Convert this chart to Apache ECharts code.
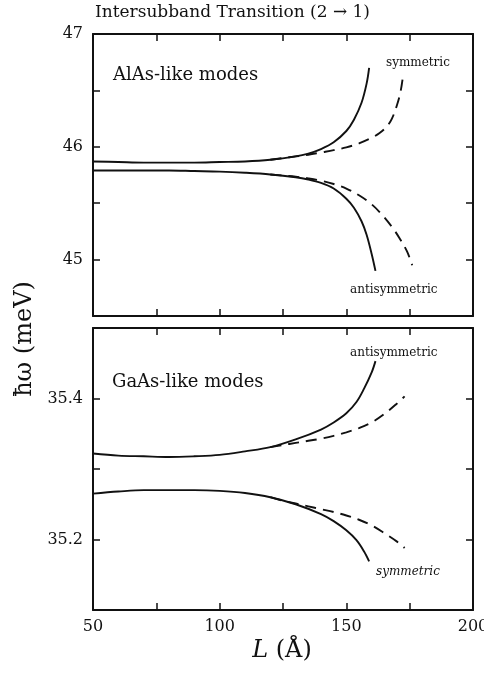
<!DOCTYPE html>
<html>
<head>
<meta charset="utf-8">
<script src="https://cdn.jsdelivr.net/npm/echarts@6/dist/echarts.min.js"></script>
<style>
  html, body { margin: 0; padding: 0; background: #fff; }
  #chart { width: 484px; height: 682px; }
</style>
</head>
<body>
<div id="chart"></div>
<script>
// AlAs-like modes (upper panel)
const alasSolidUpL = [50, 60, 70, 80, 90, 100, 110, 120, 130, 135, 140, 145, 150, 153, 156, 158, 159]
const alasSolidUpE = [45.87, 45.865, 45.86, 45.86, 45.86, 45.865, 45.87, 45.885, 45.915, 45.94, 45.98, 46.04, 46.14, 46.24, 46.39, 46.56, 46.70]
const alasSolidLoL = [50, 60, 70, 80, 90, 100, 110, 120, 130, 135, 140, 145, 150, 153, 156, 158, 160, 161.5]
const alasSolidLoE = [45.79, 45.79, 45.79, 45.79, 45.785, 45.78, 45.77, 45.755, 45.73, 45.71, 45.68, 45.63, 45.54, 45.46, 45.34, 45.22, 45.05, 44.9]
const alasDashUpL = [120, 125, 130, 135, 140, 145, 150, 155, 160, 163, 166, 168, 170, 171.5, 172.5]
const alasDashUpE = [45.885, 45.9, 45.915, 45.93, 45.95, 45.97, 45.995, 46.03, 46.08, 46.12, 46.18, 46.25, 46.37, 46.5, 46.65]
const alasDashLoL = [120, 125, 130, 135, 140, 145, 150, 155, 160, 164, 168, 171, 174, 176]
const alasDashLoE = [45.755, 45.745, 45.735, 45.72, 45.70, 45.67, 45.63, 45.57, 45.49, 45.40, 45.29, 45.19, 45.07, 44.95]

// GaAs-like modes (lower panel)
const gaasSolidUpL = [50, 60, 70, 80, 90, 100, 110, 120, 130, 140, 145, 150, 154, 157, 160, 161.5]
const gaasSolidUpE = [35.322, 35.319, 35.318, 35.317, 35.318, 35.32, 35.325, 35.331, 35.342, 35.356, 35.366, 35.379, 35.395, 35.414, 35.437, 35.453]
const gaasSolidLoL = [50, 60, 70, 80, 90, 100, 110, 120, 130, 140, 145, 150, 154, 157, 159]
const gaasSolidLoE = [35.265, 35.268, 35.27, 35.27, 35.27, 35.269, 35.266, 35.26, 35.25, 35.236, 35.226, 35.213, 35.199, 35.183, 35.169]
const gaasDashUpL = [120, 125, 130, 135, 140, 145, 150, 155, 160, 165, 170, 173]
const gaasDashUpE = [35.331, 35.334, 35.337, 35.340, 35.343, 35.347, 35.352, 35.358, 35.366, 35.378, 35.393, 35.403]
const gaasDashLoL = [120, 125, 130, 135, 140, 145, 150, 155, 160, 165, 170, 173]
const gaasDashLoE = [35.26, 35.255, 35.251, 35.247, 35.243, 35.239, 35.234, 35.228, 35.22, 35.209, 35.197, 35.188]

const xTicks = [50, 100, 150, 200]
const alasTicks = [45, 46, 47]
const gaasTicks = [35.2, 35.4]

const FONT = 'DejaVu Serif'
const INK = '#111'

const zip = (xs, ys) => xs.map((x, i) => [x, ys[i]])
const near = (v, list) => list.some((t) => Math.abs(v - t) < 1e-6)

function xAxis(gridIndex, position, labels) {
  return {
    type: 'value', gridIndex, position, min: 50, max: 200, interval: 25,
    axisLine: { show: true, onZero: false, lineStyle: { color: INK, width: 2 } },
    axisTick: { show: true, inside: true, length: 7, lineStyle: { color: INK, width: 1.5 } },
    axisLabel: {
      show: labels, margin: 9, color: INK, fontFamily: FONT, fontSize: 16,
      formatter: (v) => (near(v, xTicks) ? String(v) : ''),
    },
    splitLine: { show: false },
  }
}

function yAxis(gridIndex, position, min, max, interval, ticks, labels) {
  return {
    type: 'value', gridIndex, position, min, max, interval,
    axisLine: { show: true, onZero: false, lineStyle: { color: INK, width: 2 } },
    axisTick: { show: true, inside: true, length: 7, lineStyle: { color: INK, width: 1.5 } },
    axisLabel: {
      show: labels, margin: 10, color: INK, fontFamily: FONT, fontSize: 16,
      formatter: (v) => (near(v, ticks) ? String(+v.toFixed(1)) : ''),
    },
    splitLine: { show: false },
  }
}

function line(data, xi, yi, dashed) {
  return {
    type: 'line', data, xAxisIndex: xi, yAxisIndex: yi,
    showSymbol: false, smooth: 0.35, silent: true,
    lineStyle: { color: INK, width: 1.9, type: dashed ? [11, 7] : 'solid' },
  }
}

function text(x, y, str, size, extra) {
  return {
    type: 'text', x, y,
    style: Object.assign({ text: str, fill: INK, font: size + 'px "' + FONT + '"', textVerticalAlign: 'middle' }, extra || {}),
  }
}

const chart = echarts.init(document.getElementById('chart'), null, { renderer: 'canvas' })
chart.setOption({
  animation: false,
  backgroundColor: '#fff',
  grid: [
    { left: 93, top: 34, width: 380, height: 282, outerBoundsMode: 'none' },
    { left: 93, top: 328, width: 380, height: 282, outerBoundsMode: 'none' },
  ],
  xAxis: [
    xAxis(0, 'bottom', false),
    xAxis(0, 'top', false),
    xAxis(1, 'bottom', true),
    xAxis(1, 'top', false),
  ],
  yAxis: [
    yAxis(0, 'left', 44.5, 47, 0.5, alasTicks, true),
    yAxis(0, 'right', 44.5, 47, 0.5, alasTicks, false),
    yAxis(1, 'left', 35.1, 35.5, 0.1, gaasTicks, true),
    yAxis(1, 'right', 35.1, 35.5, 0.1, gaasTicks, false),
  ],
  series: [
    line(zip(alasSolidUpL, alasSolidUpE), 0, 0, false),
    line(zip(alasSolidLoL, alasSolidLoE), 0, 0, false),
    line(zip(alasDashUpL, alasDashUpE), 0, 0, true),
    line(zip(alasDashLoL, alasDashLoE), 0, 0, true),
    line(zip(gaasSolidUpL, gaasSolidUpE), 2, 2, false),
    line(zip(gaasSolidLoL, gaasSolidLoE), 2, 2, false),
    line(zip(gaasDashUpL, gaasDashUpE), 2, 2, true),
    line(zip(gaasDashLoL, gaasDashLoE), 2, 2, true),
  ],
  graphic: [
    text(95, 13, 'Intersubband Transition (2 \u2192 1)', 17),
    text(113, 75, 'AlAs-like modes', 18),
    text(112, 382, 'GaAs-like modes', 18),
    text(386, 63, 'symmetric', 12),
    text(350, 290, 'antisymmetric', 12),
    text(350, 353, 'antisymmetric', 12),
    text(376, 572, 'symmetric', 12, { font: 'italic 12px "' + FONT + '"' }),
    text(282, 651, '{i|L} (\u00c5)', 24, {
      textAlign: 'center',
      rich: { i: { font: 'italic 24px "' + FONT + '"', fill: INK } },
    }),
    {
      type: 'text', x: 25, y: 339, rotation: Math.PI / 2,
      style: { text: '\u0127\u03c9 (meV)', fill: INK, font: '24px "' + FONT + '"', textAlign: 'center', textVerticalAlign: 'middle' },
    },
  ],
})
</script>
</body>
</html>
